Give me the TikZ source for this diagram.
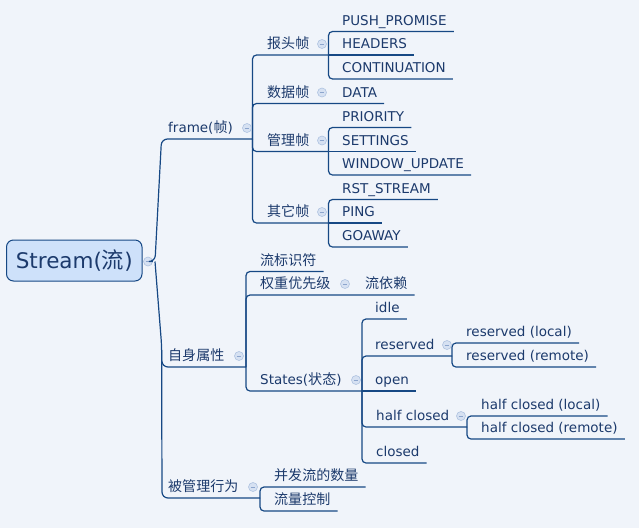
\documentclass[tikz,border=0pt]{standalone}
\usepackage{fontspec}
\setmainfont{DejaVu Sans}
\newfontfamily\cjk[Scale=1.04]{Noto Sans CJK SC}
\newcommand\zh[1]{{\cjk #1}}
\usetikzlibrary{calc}
\definecolor{bg}{RGB}{240,244,250}
\definecolor{ln}{RGB}{22,72,132}
\definecolor{tx}{RGB}{28,58,108}
\definecolor{rootfill}{RGB}{206,225,250}
\definecolor{mkfill}{RGB}{214,225,242}
\definecolor{mkdraw}{RGB}{175,195,225}
\definecolor{mkminus}{RGB}{140,165,205}
\tikzset{
 topic/.style={anchor=south west, inner xsep=7pt, inner ysep=3pt, text height=13pt, text depth=3pt, text=tx, font=\fontsize{13.5}{16}\selectfont},
 conn/.style={draw=ln, line width=1.2pt, rounded corners=4pt},
 mk/.style={circle, fill=mkfill, draw=mkdraw, line width=0.6pt, minimum size=9pt, inner sep=0pt,
   path picture={\draw[mkminus, line width=0.9pt] ([xshift=-2.3pt]path picture bounding box.center) -- ([xshift=2.3pt]path picture bounding box.center);}},
 rootbox/.style={draw=ln, line width=1pt, fill=rootfill, rounded corners=7pt, minimum width=135.5pt, minimum height=41pt, text=tx, font=\fontsize{21.5}{25}\selectfont, inner sep=0pt},
}
\begin{document}
\begin{tikzpicture}[x=1pt,y=-1pt]
\fill[bg] (0,0) rectangle (639,528);
\useasboundingbox (0,0) rectangle (639,528);

% root
\node[rootbox] (root) at (74.25,260.5) {Stream(\zh{流})};

% level 1
\node[topic] (frame) at (161,139) {frame(\zh{帧})};
\node[topic] (self) at (161,367) {\zh{自身属性}};
\node[topic] (mgd) at (161,498) {\zh{被管理行为}};

% frame children
\node[topic] (hdr) at (260,55) {\zh{报头帧}};
\node[topic] (dat) at (260,103.5) {\zh{数据帧}};
\node[topic] (mgt) at (260,151.5) {\zh{管理帧}};
\node[topic] (oth) at (260,223) {\zh{其它帧}};

\node[topic] (push) at (335,31.5) {PUSH\_PROMISE};
\node[topic] (headers) at (335,55) {HEADERS};
\node[topic] (cont) at (335,79) {CONTINUATION};
\node[topic] (data) at (335,103.5) {DATA};
\node[topic] (prio) at (335,127.5) {PRIORITY};
\node[topic] (sett) at (335,151.5) {SETTINGS};
\node[topic] (win) at (335,175) {WINDOW\_UPDATE};
\node[topic] (rst) at (335,199.5) {RST\_STREAM};
\node[topic] (ping) at (335,223) {PING};
\node[topic] (goaway) at (335,247) {GOAWAY};

% self children
\node[topic] (sid) at (253,271.5) {\zh{流标识符}};
\node[topic] (wt) at (253,295) {\zh{权重优先级}};
\node[topic] (dep) at (358,295) {\zh{流依赖}};
\node[topic] (states) at (253,391) {States(\zh{状态})};

\node[topic] (idle) at (368,319) {idle};
\node[topic] (res) at (368,356) {reserved};
\node[topic] (open) at (368,391) {open};
\node[topic] (hc) at (369,427) {half closed};
\node[topic] (closed) at (369,463) {closed};

\node[topic] (rl) at (459,343) {reserved (local)};
\node[topic] (rr) at (459,367) {reserved (remote)};
\node[topic] (hl) at (474,416) {half closed (local)};
\node[topic] (hr) at (474,439) {half closed (remote)};

% managed children
\node[topic] (conc) at (267,487) {\zh{并发流的数量}};
\node[topic] (flow) at (267,511) {\zh{流量控制}};

% junctions
\coordinate (J0) at (155,261.5);
\coordinate (Jf) at (252.5,139);
\coordinate (Jhdr) at (328.5,55);
\coordinate (Jdat) at (328.5,103.5);
\coordinate (Jmgt) at (328.5,151.5);
\coordinate (Joth) at (328.5,223);
\coordinate (Js) at (246,367);
\coordinate (Jwt) at (351,295);
\coordinate (Jst) at (362,391);
\coordinate (Jres) at (452,356);
\coordinate (Jhc) at (467,427);
\coordinate (Jm) at (260,498);

% markers
\node[mk] (rootm) at (148,261.5) {};

% trunk
\draw[conn, rounded corners=6pt] (rootm.east) -- (J0) -- (161.5,139) -- (Jf);
\draw[conn, rounded corners=6pt] (J0) -- (161.6,345) -- (162,498) -- (Jm);
\draw[conn, rounded corners=6pt] (161.7,350) -- (162,367) -- (Js);

% frame branch
\draw[conn] (Jf) |- (Jhdr);
\draw[conn] (Jf) |- (Jdat) -- (data.south east);
\draw[conn] (Jf) |- (Jmgt);
\draw[conn] (Jf) |- (Joth);
\draw[conn] (Jhdr) |- (push.south east);
\draw[conn] (Jhdr) -- (headers.south east);
\draw[conn] (Jhdr) |- (cont.south east);
\draw[conn] (Jmgt) |- (prio.south east);
\draw[conn] (Jmgt) -- (sett.south east);
\draw[conn] (Jmgt) |- (win.south east);
\draw[conn] (Joth) |- (rst.south east);
\draw[conn] (Joth) -- (ping.south east);
\draw[conn] (Joth) |- (goaway.south east);

% self branch
\draw[conn] (Js) |- (sid.south east);
\draw[conn] (Js) |- (Jwt) -- (dep.south east);
\draw[conn] (Js) |- (Jst);
\draw[conn] (Jst) |- (idle.south east);
\draw[conn] (Jst) |- (Jres);
\draw[conn] (Jst) -- (open.south east);
\draw[conn] (Jst) |- (Jhc);
\draw[conn] (Jst) |- (closed.south east);
\draw[conn] (Jres) |- (rl.south east);
\draw[conn] (Jres) |- (rr.south east);
\draw[conn] (Jhc) |- (hl.south east);
\draw[conn] (Jhc) |- (hr.south east);

% managed branch
\draw[conn] (Jm) |- (conc.south east);
\draw[conn] (Jm) |- (flow.south east);

% markers
\node[mk] (mframe) at (247,128) {};
\node[mk] (mhdr) at (322,44) {};
\node[mk] (mdat) at (322,92.5) {};
\node[mk] (mmgt) at (322,140.5) {};
\node[mk] (moth) at (322,212) {};
\node[mk] (mself) at (239,356) {};
\node[mk] (mwt) at (345,284) {};
\node[mk] (mst) at (356,380) {};
\node[mk] (mres) at (447,345) {};
\node[mk] (mhc) at (461,416) {};
\node[mk] (mmgd) at (253,487) {};
\end{tikzpicture}
\end{document}
